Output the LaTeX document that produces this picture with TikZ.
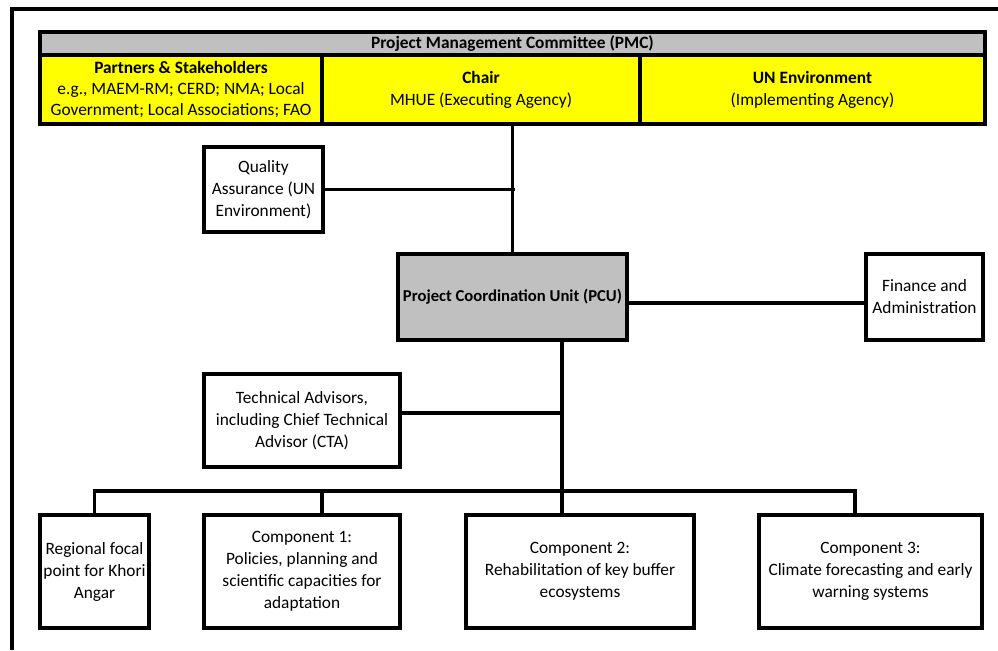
\documentclass[tikz,border=0pt]{standalone}
\usepackage{fontspec}
\setmainfont{Carlito}
\definecolor{cellgrey}{HTML}{C0C0C0}
\definecolor{cellyellow}{HTML}{FFFF00}
\tikzset{
  box/.style={draw,line width=2.4pt,inner sep=0pt,align=center,
    font=\fontsize{13}{16.5}\selectfont},
  link/.style={line width=2.4pt},
}
\begin{document}
\begin{tikzpicture}[x=0.75pt,y=-0.75pt]
\useasboundingbox (0,0) rectangle (998,650);
\draw[line width=3pt] (998,9) -- (12,9) -- (12,650);
% committee table
\node[box,fill=cellgrey,minimum width=708.75pt,minimum height=17.25pt] (pmc) at (512.5,43.5)
  {\textbf{Project Management Committee (PMC)}};
\node[box,fill=cellyellow,minimum width=211.5pt,minimum height=51.75pt,font=\fontsize{13}{16}\selectfont] (partners) at (181,89.5)
  {\textbf{Partners \& Stakeholders}\\ e.g., MAEM-RM; CERD; NMA; Local\\ Government; Local Associations; FAO};
\node[box,fill=cellyellow,minimum width=238.5pt,minimum height=51.75pt] (chair) at (481,89.5)
  {\textbf{Chair}\\ MHUE (Executing Agency)};
\node[box,fill=cellyellow,minimum width=258.75pt,minimum height=51.75pt] (unep) at (812.5,89.5)
  {\textbf{UN Environment}\\ (Implementing Agency)};
% units
\node[box,minimum width=89.25pt,minimum height=63.75pt] (qa) at (263.5,189.5)
  {Quality\\ Assurance (UN\\ Environment)};
\node[box,fill=cellgrey,minimum width=171.75pt,minimum height=64.5pt,font=\fontsize{12.5}{16.5}\selectfont] (pcu) at (512.5,297)
  {\textbf{Project Coordination Unit (PCU)}};
\node[box,minimum width=87.75pt,minimum height=64.5pt] (fin) at (924.5,297)
  {Finance and\\ Administration};
\node[box,minimum width=147pt,minimum height=69.75pt] (tech) at (302,420.5)
  {Technical Advisors,\\ including Chief Technical\\ Advisor (CTA)};
% components
\node[box,minimum width=81.75pt,minimum height=84.75pt] (reg) at (94.5,571.5)
  {Regional focal\\ point for Khori\\ Angar};
\node[box,minimum width=147pt,minimum height=84.75pt] (compA) at (302,571.5)
  {Component 1:\\ Policies, planning and\\ scientific capacities for\\ adaptation};
\node[box,minimum width=171pt,minimum height=84.75pt] (compB) at (580,571.5)
  {Component 2:\\ Rehabilitation of key buffer\\ ecosystems};
\node[box,minimum width=167.25pt,minimum height=84.75pt] (compC) at (870.5,571.5)
  {Component 3:\\ Climate forecasting and early\\ warning systems};
\coordinate (bus) at (562,491);
% connectors
\draw[link] (pcu.north) -- (pcu.north |- chair.south);
\draw[link] (qa.east) -- ([xshift=1.5pt]qa.east -| pcu.north);
\draw[link] ([yshift=-4.5pt]pcu.east) -- ([yshift=-4.5pt]fin.west);
\draw[link] (pcu.south -| bus) -- (bus);
\draw[link] ([yshift=5.6pt]tech.east) -- ([yshift=5.6pt]tech.east -| bus);
\draw[link] (reg.north) |- (bus) -| ([xshift=-11.6pt]compC.north);
\draw[link] ([xshift=15pt]compA.north) -- ([xshift=15pt]compA.north |- bus);
\draw[link] (bus) -- ([xshift=-13.5pt]compB.north);
\end{tikzpicture}
\end{document}
